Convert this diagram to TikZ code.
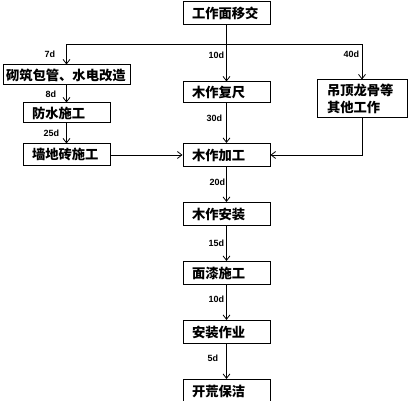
\documentclass[tikz,border=0pt]{standalone}
\usepackage{fontspec}
\usepackage{tikz}
\usetikzlibrary{arrows.meta,positioning}
\newfontfamily\cjk{Noto Sans CJK SC}
\setsansfont{Liberation Sans}
\tikzset{
  task/.style={draw,line width=1pt,minimum height=23pt,text width=69pt,inner xsep=9pt,inner ysep=0pt,align=left,font=\cjk\bfseries\fontsize{13.3}{17}\selectfont},
  arrow/.style={-{Straight Barb[length=4.5pt,width=7pt]},line width=0.8pt},
  dur/.style={font=\sffamily\bfseries\fontsize{9}{10}\selectfont,inner sep=1pt}
}

\begin{document}
\begin{tikzpicture}[x=1pt,y=-1pt,node distance=35pt]
  \useasboundingbox (0,0) rectangle (408,401);
  \node[task] (handover) at (226.5,13) {工作面移交};
  \coordinate (bus) at (226.5,44);
  \node[task,text width=121pt,inner xsep=3pt,minimum height=20pt] (masonry) at (66.5,75) {砌筑包管、水电改造};
  \node[task,minimum height=21pt] (recheck) at (226.5,92.5) {木作复尺};
  \node[task,text width=70pt,inner xsep=10pt,minimum height=38pt] (ceiling) at (362,99) {吊顶龙骨等\\其他工作};
  \node[task,minimum height=20pt] (waterproof) at (66.5,113) {防水施工};
  \node[task,minimum height=22pt] (tiling) at (66.5,155) {墙地砖施工};
  \node[task] (woodwork) at (226.5,155) {木作加工};
  \node[task,below=of woodwork] (install) {木作安装};
  \node[task,below=of install] (paint) {面漆施工};
  \node[task,below=of paint] (fitting) {安装作业};
  \node[task,below=of fitting] (cleaning) {开荒保洁};

  \draw[line width=0.8pt] (handover) -- (bus);
  \draw[arrow] (bus) -| node[dur,pos=0.76,left=10pt] {7d} (masonry);
  \draw[arrow] (handover) -- node[dur,pos=0.53,left=1pt] {10d} (recheck);
  \draw[arrow] (bus) -| node[dur,pos=0.65,left=1.5pt] {40d} (ceiling);
  \draw[arrow] (masonry) -- node[dur,left=9pt] {8d} (waterproof);
  \draw[arrow] (waterproof) -- node[dur,left=6pt] {25d} (tiling);
  \draw[arrow] (recheck) -- node[dur,pos=0.37,left=3pt] {30d} (woodwork);
  \draw[arrow] (tiling) -- (woodwork);
  \draw[arrow] (ceiling) |- (woodwork);

  % main line
  \draw[arrow] (woodwork) -- node[dur,pos=0.44,left=0pt] {20d} (install);
  \draw[arrow] (install) -- node[dur,pos=0.5,left=1pt] {15d} (paint);
  \draw[arrow] (paint) -- node[dur,pos=0.41,left=1pt] {10d} (fitting);
  \draw[arrow] (fitting) -- node[dur,pos=0.41,left=7pt] {5d} (cleaning);
\end{tikzpicture}
\end{document}
